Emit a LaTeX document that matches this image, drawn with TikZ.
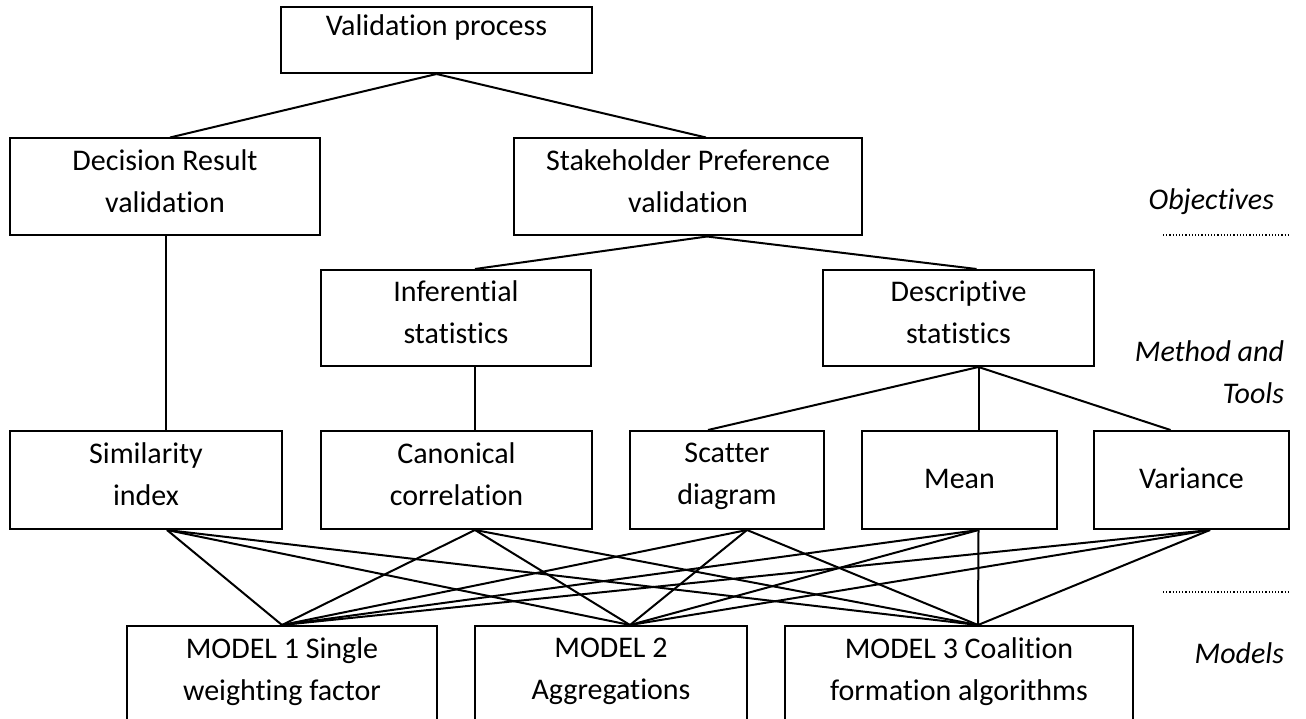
\documentclass[tikz,border=0pt]{standalone}
\usepackage{fontspec}
\setmainfont{Carlito}[Ligatures=NoCommon]
\usepackage{tikz}

\begin{document}
\begin{tikzpicture}[x=1pt,y=-1pt,line width=2pt,
    box/.style={draw,rectangle,align=center,inner sep=0pt,font=\fontsize{30}{42}\selectfont,
      execute at begin node=\strut,execute at end node=\strut},
    side/.style={anchor=east,align=right,inner sep=0pt,font=\fontsize{30}{42}\selectfont\itshape}]
        \useasboundingbox (0,0) rectangle (1306,719);
        \clip (0,0) rectangle (1306,719);
        \node[box,minimum width=311pt,minimum height=66pt,text height=21pt,text depth=29pt] (valid) at (436.5,40) {Validation process};
        \node[box,minimum width=310pt,minimum height=97pt] (dec) at (165,187) {Decision Result\\validation};
        \node[box,minimum width=348pt,minimum height=97pt] (pref) at (688,187) {Stakeholder Preference\\validation};
        \node[box,minimum width=270pt,minimum height=96pt] (inf) at (456,318) {Inferential\\statistics};
        \node[box,minimum width=271pt,minimum height=96pt] (desc) at (958.5,318) {Descriptive\\statistics};
        \node[box,minimum width=272pt,minimum height=98pt] (sim) at (146,480) {Similarity\\index};
        \node[box,minimum width=271pt,minimum height=98pt] (canon) at (456.5,480) {Canonical\\correlation};
        \node[box,minimum width=194pt,minimum height=98pt] (scat) at (727,480) {Scatter\\diagram};
        \node[box,minimum width=195pt,minimum height=98pt] (mean) at (959.5,480) {Mean};
        \node[box,minimum width=195pt,minimum height=98pt] (var) at (1191.5,480) {Variance};
        \node[box,minimum width=310pt,minimum height=98pt] (m1) at (282,675) {MODEL 1 Single\\weighting factor};
        \node[box,minimum width=272pt,minimum height=98pt] (m2) at (611,675) {MODEL 2\\Aggregations};
        \node[box,minimum width=348pt,minimum height=98pt] (m3) at (959,675) {MODEL 3 Coalition\\formation algorithms};
        % levels on the right
        \node[side] (obj) at (1275,202) {Objectives};
        \node[side] (meth) at (1285,372) {Method and\\Tools};
        \node[side] (mod) at (1285,653) {Models};
        \coordinate (sepa) at (1163,235);
        \coordinate (sepb) at (1290,235);
        \coordinate (sepc) at (1163,592);
        \coordinate (sepd) at (1290,592);
        \draw[dotted,line width=1.2pt] (sepa) -- (sepb);
        \draw[dotted,line width=1.2pt] (sepc) -- (sepd);
        % tree
        \draw (valid.south) -- ([xshift=5pt]dec.north);
        \draw (valid.south) -- ([xshift=18pt]pref.north);
        \draw ([xshift=1pt]dec.south) -- ([xshift=20pt]sim.north);
        \draw ([xshift=19pt]pref.south) -- ([xshift=19pt]inf.north);
        \draw ([xshift=19pt]pref.south) -- ([xshift=18pt]desc.north);
        \draw ([xshift=19pt]inf.south) -- ([xshift=18.5pt]canon.north);
        \draw ([xshift=20pt]desc.south) -- ([xshift=-19pt]scat.north);
        \draw ([xshift=20pt]desc.south) -- ([xshift=19pt]mean.north);
        \draw ([xshift=20pt]desc.south) -- ([xshift=-21pt]var.north);
        % tools to models
        \draw ([xshift=21pt]sim.south) -- (m1.north);
        \draw ([xshift=21pt]sim.south) -- ([xshift=19pt]m2.north);
        \draw ([xshift=21pt]sim.south) -- ([xshift=19pt]m3.north);
        \draw ([xshift=18.5pt]canon.south) -- (m1.north);
        \draw ([xshift=18.5pt]canon.south) -- ([xshift=19pt]m2.north);
        \draw ([xshift=18.5pt]canon.south) -- ([xshift=19pt]m3.north);
        \draw ([xshift=20pt]scat.south) -- (m1.north);
        \draw ([xshift=20pt]scat.south) -- ([xshift=19pt]m2.north);
        \draw ([xshift=20pt]scat.south) -- ([xshift=19pt]m3.north);
        \draw ([xshift=19pt]mean.south) -- (m1.north);
        \draw ([xshift=19pt]mean.south) -- ([xshift=19pt]m2.north);
        \draw ([xshift=19pt]mean.south) -- ([xshift=19pt]m3.north);
        \draw ([xshift=18.5pt]var.south) -- (m1.north);
        \draw ([xshift=18.5pt]var.south) -- ([xshift=19pt]m2.north);
        \draw ([xshift=18.5pt]var.south) -- ([xshift=19pt]m3.north);
    \end{tikzpicture}
\end{document}
